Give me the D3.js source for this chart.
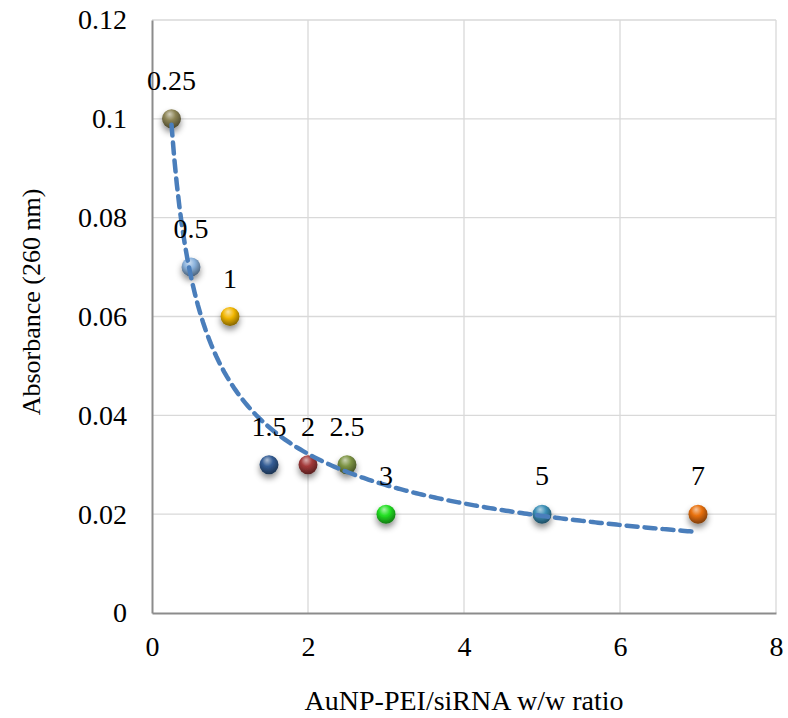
<!DOCTYPE html>
<html>
<head>
<meta charset="utf-8">
<script src="https://cdn.jsdelivr.net/npm/d3@7"></script>
<style>
  html, body { margin: 0; padding: 0; background: #fff; }
  svg { display: block; font-family: "Liberation Serif", "Times New Roman", serif; }
</style>
</head>
<body>
<svg id="chart" width="788" height="718"></svg>
<script>
// Measured ratios and absorbance readings
const ratios = [0.25, 0.5, 1, 1.5, 2, 2.5, 3, 5, 7];
const absorbance = [0.1, 0.07, 0.06, 0.03, 0.03, 0.03, 0.02, 0.02, 0.02];
const pointLabels = ["0.25", "0.5", "1", "1.5", "2", "2.5", "3", "5", "7"];
const pointColors = ["#8c8455", "#8ab2dc", "#f2b705", "#335c94", "#a33a3a", "#7d9444", "#22e022", "#3b8fb6", "#e8700c"];
const xTicks = [0, 2, 4, 6, 8];
const yTicks = [0, 0.02, 0.04, 0.06, 0.08, 0.1, 0.12];

const svg = d3.select("#chart");
const margin = { left: 152, right: 12, top: 20, bottom: 105 };
const W = 788, H = 718;
const FONT = "Liberation Serif, Times New Roman, serif";

const x = d3.scaleLinear().domain([0, 8]).range([margin.left, W - margin.right]);
const y = d3.scaleLinear().domain([0, 0.12]).range([H - margin.bottom, margin.top]);

// Gradients and shadow filter for sphere markers
const defs = svg.append("defs");
pointColors.forEach((c, i) => {
  const g = defs.append("radialGradient")
    .attr("id", "sph" + i)
    .attr("cx", "45%").attr("cy", "35%").attr("r", "65%")
    .attr("fx", "40%").attr("fy", "25%");
  g.append("stop").attr("offset", "0%").attr("stop-color", d3.interpolateRgb(c, "#fff")(0.6));
  g.append("stop").attr("offset", "45%").attr("stop-color", c);
  g.append("stop").attr("offset", "100%").attr("stop-color", d3.interpolateRgb(c, "#000")(0.45));
});
const f = defs.append("filter").attr("id", "shadow")
  .attr("x", "-80%").attr("y", "-80%").attr("width", "260%").attr("height", "260%");
f.append("feDropShadow").attr("dx", 0).attr("dy", 4).attr("stdDeviation", 3)
  .attr("flood-color", "#000").attr("flood-opacity", 0.45);

// Gridlines
svg.append("g")
  .selectAll("line")
  .data(yTicks.filter(d => d > 0))
  .join("line")
  .attr("x1", x(0)).attr("x2", x(8))
  .attr("y1", d => y(d)).attr("y2", d => y(d))
  .attr("stroke", "#d9d9d9").attr("stroke-width", 1.3);
svg.append("g")
  .selectAll("line")
  .data(xTicks.filter(d => d > 0))
  .join("line")
  .attr("x1", d => x(d)).attr("x2", d => x(d))
  .attr("y1", y(0)).attr("y2", y(0.12))
  .attr("stroke", "#d9d9d9").attr("stroke-width", 1.3);

// Axes
const xAxis = svg.append("g")
  .attr("transform", `translate(0,${y(0)})`)
  .call(d3.axisBottom(x).tickValues(xTicks).tickSize(0).tickFormat(d3.format("d")));
const yAxis = svg.append("g")
  .attr("transform", `translate(${x(0)},0)`)
  .call(d3.axisLeft(y).tickValues(yTicks).tickSize(0).tickPadding(25)
    .tickFormat(d => d === 0 ? "0" : String(+d.toFixed(2))));
[xAxis, yAxis].forEach(a => {
  a.select(".domain").attr("stroke", "#8c8c8c").attr("stroke-width", 2);
  a.selectAll("text").attr("font-size", 28).attr("fill", "#000").attr("font-family", FONT);
});
xAxis.selectAll("text").attr("y", 43).attr("dy", 0);

// Axis titles
svg.append("text")
  .attr("x", x(4)).attr("y", 710)
  .attr("text-anchor", "middle").attr("font-size", 28).attr("font-family", FONT)
  .text("AuNP-PEI/siRNA w/w ratio");
svg.append("text")
  .attr("transform", `translate(40,302) rotate(-90)`)
  .attr("text-anchor", "middle").attr("font-size", 26).attr("font-family", FONT)
  .text("Absorbance (260 nm)");

// Power trendline fitted in log-log space
const lx = ratios.map(Math.log), ly = absorbance.map(Math.log);
const mx = d3.mean(lx), my = d3.mean(ly);
const b = d3.sum(lx.map((v, i) => (v - mx) * (ly[i] - my))) / d3.sum(lx.map(v => (v - mx) ** 2));
const a = Math.exp(my - b * mx);
const x0 = ratios[0], x1 = ratios[ratios.length - 1];
const trend = d3.range(0, 201).map(i => {
  const v = x0 + (x1 - x0) * i / 200;
  return [v, a * Math.pow(v, b)];
});

// Markers
const pts = ratios.map((r, i) => ({ r, v: absorbance[i], label: pointLabels[i], i }));
svg.append("g")
  .selectAll("circle")
  .data(pts)
  .join("circle")
  .attr("cx", d => x(d.r)).attr("cy", d => y(d.v)).attr("r", 9.5)
  .attr("fill", d => `url(#sph${d.i})`)
  .attr("filter", "url(#shadow)");

svg.append("path")
  .datum(trend)
  .attr("d", d3.line().x(d => x(d[0])).y(d => y(d[1])))
  .attr("fill", "none").attr("stroke", "#4a7ebb")
  .attr("stroke-width", 4.5).attr("stroke-dasharray", "11,7")
  .attr("stroke-linecap", "round");

// Data labels
svg.append("g")
  .selectAll("text")
  .data(pts)
  .join("text")
  .attr("x", d => x(d.r)).attr("y", d => y(d.v) - 29)
  .attr("text-anchor", "middle").attr("font-size", 28).attr("font-family", FONT)
  .text(d => d.label);
</script>
</body>
</html>
